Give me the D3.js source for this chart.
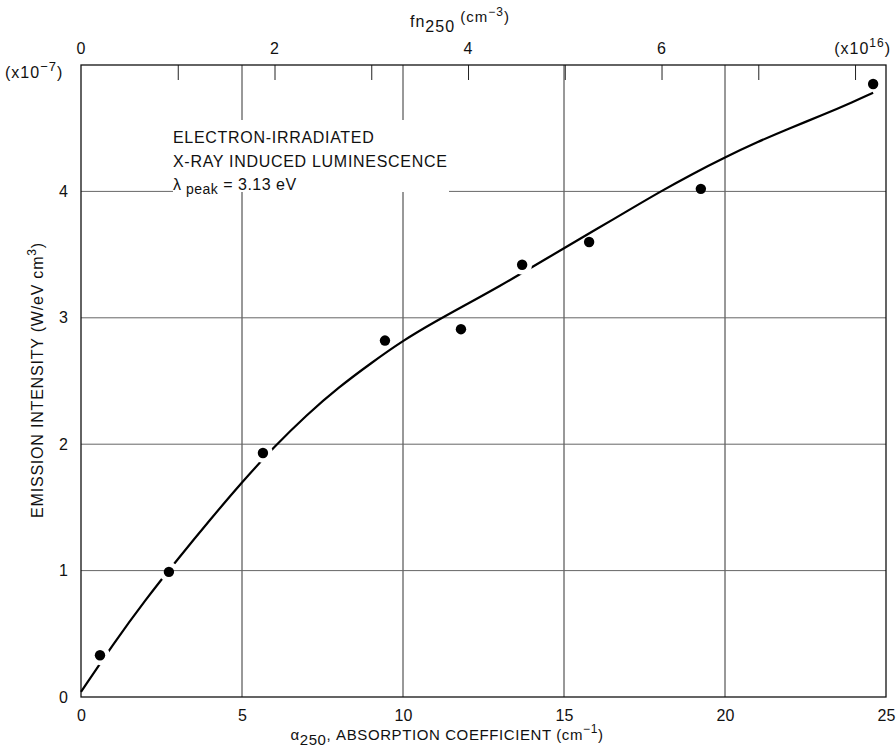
<!DOCTYPE html>
<html>
<head>
<meta charset="utf-8">
<script src="https://cdn.jsdelivr.net/npm/d3@7"></script>
<style>
    body { margin: 0; background: #fff; }
    text { font-family: "Liberation Sans", Arial, sans-serif; fill: #111; }
</style>
</head>
<body>
<div id="chart"></div>
<script>

// measured points (alpha in cm^-1, intensity in 1e-7 W/eV cm^3)
const alphaValues = [0.59, 2.73, 5.65, 9.44, 11.80, 13.70, 15.78, 19.25, 24.60];
const intensityValues = [0.33, 0.99, 1.93, 2.82, 2.91, 3.42, 3.60, 4.02, 4.85];
// points the drawn curve is broken around
const curveBreaks = [true, true, true, false, false, true, false, false, false];

// hand drawn fit curve
const fitAlpha = [0, 1, 2, 3, 4, 5, 6, 7, 8, 9, 10, 11, 12, 13, 14, 15, 16, 17, 18, 19, 20, 21, 22, 23, 24, 24.6];
const fitIntensity = [0.04, 0.42, 0.77, 1.09, 1.40, 1.70, 1.98, 2.23, 2.45, 2.64, 2.82, 2.97, 3.11, 3.25, 3.40,
    3.55, 3.70, 3.85, 4.00, 4.14, 4.27, 4.39, 4.50, 4.60, 4.71, 4.78];

// axes
const alphaTicks = [0, 5, 10, 15, 20, 25];
const intensityTicks = [0, 1, 2, 3, 4];
const fnTicks = [1, 2, 3, 4, 5, 6, 7, 8];
const fnLabels = [0, 2, 4, 6];
const fnMax = 8.32;

const legendLines = ["ELECTRON-IRRADIATED", "X-RAY INDUCED LUMINESCENCE"];

let W = 896, H = 748;
let margin = { top: 65, right: 10, bottom: 51, left: 81 };
let width = W - margin.left - margin.right;
let height = H - margin.top - margin.bottom;

let svg = d3.select("#chart").append("svg")
    .attr("width", W)
    .attr("height", H);

let g = svg.append("g")
    .attr("transform", `translate(${margin.left},${margin.top})`);

// scales
let x = d3.scaleLinear().domain([0, 25]).range([0, width]);
let y = d3.scaleLinear().domain([0, 5]).range([height, 0]);
let xTop = d3.scaleLinear().domain([0, fnMax]).range([0, width]);

// mask that cuts the curve around some dots
let defs = svg.append("defs");
let mask = defs.append("mask").attr("id", "curveGaps").attr("maskUnits", "userSpaceOnUse");
mask.append("rect")
    .attr("x", -margin.left).attr("y", -margin.top)
    .attr("width", W).attr("height", H)
    .attr("fill", "white");
mask.selectAll("circle")
    .data(alphaValues.map((a, i) => ({ a: a, v: intensityValues[i], brk: curveBreaks[i] })).filter(d => d.brk))
    .enter().append("circle")
    .attr("cx", d => x(d.a))
    .attr("cy", d => y(d.v))
    .attr("r", 10)
    .attr("fill", "black");

// grid
g.selectAll(".vgrid")
    .data(alphaTicks.slice(1, -1))
    .enter().append("line")
    .attr("x1", d => x(d)).attr("x2", d => x(d))
    .attr("y1", 0).attr("y2", height)
    .attr("stroke", "#333").attr("stroke-width", 1);

g.selectAll(".hgrid")
    .data(intensityTicks.slice(1))
    .enter().append("line")
    .attr("x1", 0).attr("x2", width)
    .attr("y1", d => y(d)).attr("y2", d => y(d))
    .attr("stroke", "#666").attr("stroke-width", 1);

// top axis: inward ticks, labels on even values only
let topAxis = d3.axisTop(xTop)
    .tickValues(fnTicks)
    .tickSize(-15)
    .tickFormat("");
g.append("g").call(topAxis)
    .call(a => a.select(".domain").remove())
    .selectAll("line").attr("stroke", "#222");

g.selectAll(".fnlab")
    .data(fnLabels)
    .enter().append("text")
    .attr("x", d => xTop(d))
    .attr("y", -11)
    .attr("text-anchor", "middle")
    .style("font-size", "16px")
    .text(d => d);

// bottom and left tick labels
let bottomAxis = d3.axisBottom(x).tickValues(alphaTicks).tickSize(0).tickPadding(13);
g.append("g")
    .attr("transform", `translate(0,${height})`)
    .call(bottomAxis)
    .call(a => a.select(".domain").remove())
    .selectAll("text")
    .style("font-size", "16px")
    .style("font-family", "'Liberation Sans', Arial, sans-serif")
    .attr("fill", "#111");

let leftAxis = d3.axisLeft(y).tickValues(intensityTicks).tickSize(0).tickPadding(13)
    .tickFormat(d3.format("d"));
g.append("g")
    .call(leftAxis)
    .call(a => a.select(".domain").remove())
    .selectAll("text")
    .style("font-size", "16px")
    .style("font-family", "'Liberation Sans', Arial, sans-serif")
    .attr("fill", "#111");

// blank box behind the legend text
g.append("rect")
    .attr("x", 92).attr("y", 55)
    .attr("width", 276).attr("height", 72)
    .attr("fill", "white");

// legend text
g.selectAll(".leg")
    .data(legendLines)
    .enter().append("text")
    .attr("x", 92)
    .attr("y", (d, i) => 78 + i * 24)
    .style("font-size", "16px")
    .style("letter-spacing", "0.7px")
    .text(d => d);

let lam = g.append("text")
    .attr("x", 92)
    .attr("y", 125)
    .style("font-size", "16px")
    .style("letter-spacing", "0.5px");
lam.append("tspan").text("λ");
lam.append("tspan").attr("dy", 4).style("font-size", "14px").text(" peak");
lam.append("tspan").attr("dy", -4).text(" = 3.13 eV");

// frame
g.append("rect")
    .attr("width", width).attr("height", height)
    .attr("fill", "none")
    .attr("stroke", "#111")
    .attr("stroke-width", 1.3);

// fitted curve
let line = d3.line()
    .x(d => x(d[0]))
    .y(d => y(d[1]))
    .curve(d3.curveBasis);

g.append("path")
    .datum(fitAlpha.map((a, i) => [a, fitIntensity[i]]))
    .attr("d", line)
    .attr("fill", "none")
    .attr("stroke", "#000")
    .attr("stroke-width", 2.2)
    .attr("mask", "url(#curveGaps)");

// data points
g.selectAll(".dot")
    .data(alphaValues)
    .enter().append("circle")
    .attr("cx", d => x(d))
    .attr("cy", (d, i) => y(intensityValues[i]))
    .attr("r", 5.2)
    .attr("fill", "#000");

// axis titles
let yTitle = svg.append("text")
    .attr("transform", `translate(43,380) rotate(-90)`)
    .attr("text-anchor", "middle")
    .style("font-size", "16px")
    .style("letter-spacing", "0.8px");
yTitle.append("tspan").text("EMISSION INTENSITY  (W/eV cm");
yTitle.append("tspan").attr("dy", -7).style("font-size", "12px").text("3");
yTitle.append("tspan").attr("dy", 7).text(")");

let xTitle = svg.append("text")
    .attr("x", 447)
    .attr("y", 740)
    .attr("text-anchor", "middle")
    .style("font-size", "15px")
    .style("letter-spacing", "0.6px");
xTitle.append("tspan").text("α");
xTitle.append("tspan").attr("dy", 5).text("250");
xTitle.append("tspan").attr("dy", -5).text(", ABSORPTION COEFFICIENT (cm");
xTitle.append("tspan").attr("dy", -7).style("font-size", "12px").text("−1");
xTitle.append("tspan").attr("dy", 7).text(")");

let topTitle = svg.append("text")
    .attr("x", 410)
    .attr("y", 27)
    .style("font-size", "16px")
    .style("letter-spacing", "1px");
topTitle.append("tspan").text("fn");
topTitle.append("tspan").attr("dy", 5).text("250");
topTitle.append("tspan").attr("dy", -10).style("font-size", "15px").text(" (cm");
topTitle.append("tspan").attr("dy", -6).style("font-size", "12px").text("−3");
topTitle.append("tspan").attr("dy", 6).style("font-size", "15px").text(")");

// multipliers
let yMult = svg.append("text")
    .attr("x", 5).attr("y", 78)
    .style("font-size", "16px")
    .style("letter-spacing", "1px");
yMult.append("tspan").text("(x10");
yMult.append("tspan").attr("dy", -7).style("font-size", "13px").text("−7");
yMult.append("tspan").attr("dy", 7).text(")");

let xMult = svg.append("text")
    .attr("x", 891).attr("y", 54)
    .attr("text-anchor", "end")
    .style("font-size", "16px")
    .style("letter-spacing", "1px");
xMult.append("tspan").text("(x10");
xMult.append("tspan").attr("dy", -7).style("font-size", "12px").text("16");
xMult.append("tspan").attr("dy", 7).text(")");

</script>
</body>
</html>
